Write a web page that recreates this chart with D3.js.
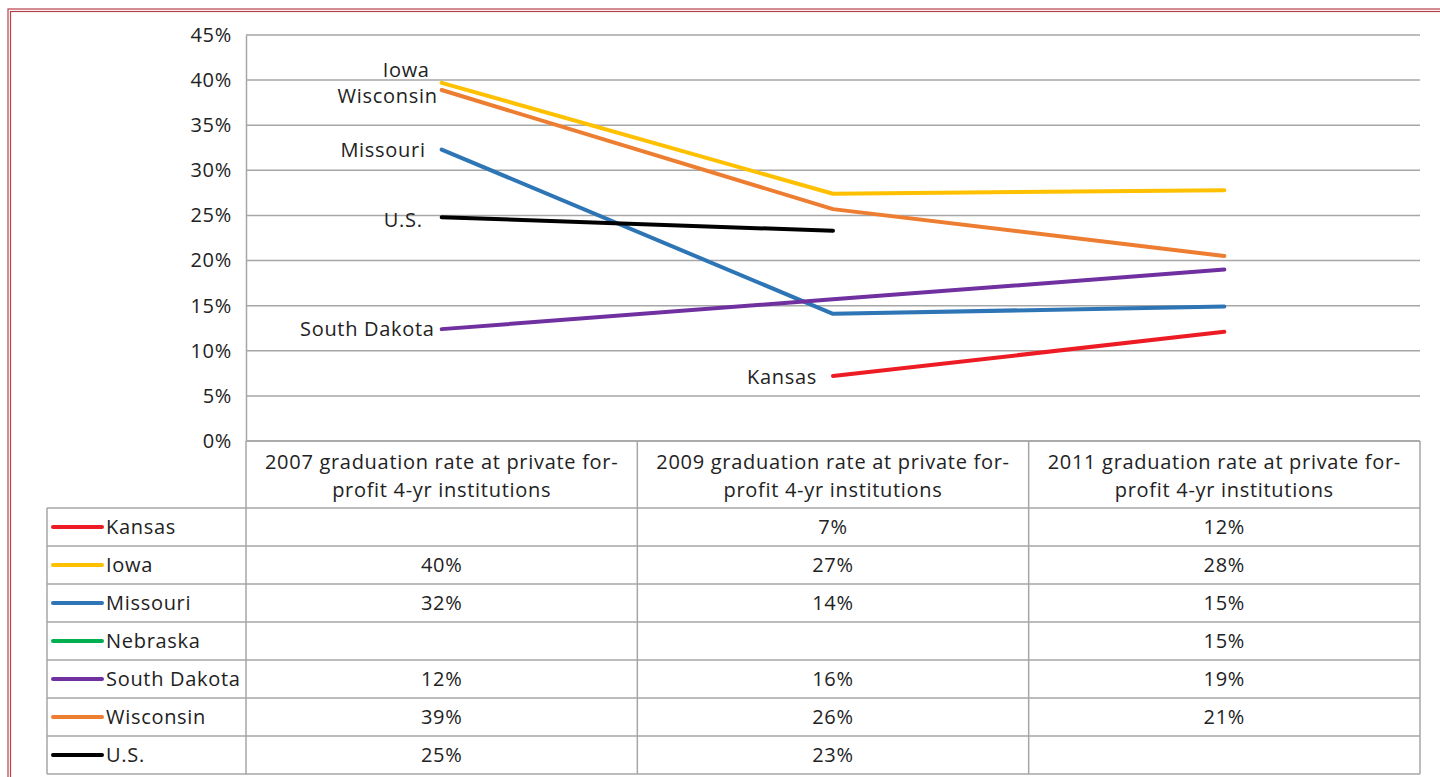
<!DOCTYPE html>
<html>
<head>
<meta charset="utf-8">
<script src="https://cdn.jsdelivr.net/npm/d3@7"></script>
<style>
  body { margin: 0; background: #fff; }
  svg text { font-family: "Open Sans", Lato, sans-serif; fill: #222; letter-spacing: 0.7px; }
</style>
</head>
<body>
<div id="chart"></div>
<script>
// datos
const categories = ["2007", "2009", "2011"];
const headerLines = [
  ["2007 graduation rate at private for-", "profit 4-yr institutions"],
  ["2009 graduation rate at private for-", "profit 4-yr institutions"],
  ["2011 graduation rate at private for-", "profit 4-yr institutions"]
];
const seriesNames = ["Kansas", "Iowa", "Missouri", "Nebraska", "South Dakota", "Wisconsin", "U.S."];
const seriesColors = ["#ed1c24", "#ffc000", "#2e75b6", "#00b050", "#7030a0", "#ed7d31", "#000000"];
const kansas = [null, 0.072, 0.121];
const iowa = [0.397, 0.274, 0.278];
const missouri = [0.323, 0.141, 0.149];
const nebraska = [null, null, 0.15];
const southDakota = [0.124, 0.157, 0.19];
const wisconsin = [0.389, 0.257, 0.205];
const us = [0.248, 0.233, null];
const seriesValues = [kansas, iowa, missouri, nebraska, southDakota, wisconsin, us];
const yTicks = [0, 0.05, 0.1, 0.15, 0.2, 0.25, 0.3, 0.35, 0.4, 0.45];

const width = 1440;
const height = 777;
const plot = { left: 246, right: 1420, top: 35, bottom: 441 };
const table = { left: 47, headerBottom: 508, rowH: 38 };
const gridColor = "#a6a6a6";
const fontSize = "20px";
// desplazamiento de etiquetas (dx hacia la izquierda, dy vertical)
const labelOffset = {
  "Kansas": [16, 8], "Iowa": [12, -6], "Missouri": [16, 7],
  "South Dakota": [7, 7], "Wisconsin": [4, 13], "U.S.": [19, 10]
};

const svg = d3.select("div#chart").append("svg").attr("width", width).attr("height", height)

// marco rojo doble
svg.append("rect").attr("x", 8).attr("y", 9).attr("width", width).attr("height", height)
  .attr("fill", "none").attr("stroke", "#b8404a").attr("stroke-width", 1.2)
svg.append("rect").attr("x", 10.5).attr("y", 11.5).attr("width", width).attr("height", height)
  .attr("fill", "none").attr("stroke", "#b8404a").attr("stroke-width", 1.2)

// escalas
const x = d3.scaleBand().domain(categories).range([plot.left, plot.right])
const y = d3.scaleLinear().domain([0, 0.45]).range([plot.bottom, plot.top])
const cx = c => x(c) + x.bandwidth() / 2

// rejilla
svg.append("g").selectAll("line").data(yTicks).join("line")
  .attr("x1", plot.left).attr("x2", plot.right)
  .attr("y1", d => y(d)).attr("y2", d => y(d))
  .attr("stroke", gridColor).attr("stroke-width", 1.5)

const yAxis = d3.axisLeft(y).tickValues(yTicks).tickFormat(d3.format(".0%")).tickSize(0).tickPadding(14)
const yAxisGroup = svg.append("g").attr("transform", `translate(${plot.left},0)`).call(yAxis)
yAxisGroup.select(".domain").attr("stroke", gridColor).attr("stroke-width", 1.5)
yAxisGroup.selectAll("text").style("font-size", fontSize).style("font-family", "'Open Sans', sans-serif").attr("fill", "#222")

// líneas
const line = d3.line().defined(d => d.v != null).x(d => cx(d.c)).y(d => y(d.v))
seriesNames.forEach((name, i) => {
  const pts = categories.map((c, j) => ({ c: c, v: seriesValues[i][j] }))
  const valid = pts.filter(d => d.v != null)
  if (valid.length < 2) return
  svg.append("path").datum(pts)
    .attr("d", line)
    .attr("fill", "none")
    .attr("stroke", seriesColors[i])
    .attr("stroke-width", 4)
    .attr("stroke-linecap", "round")
    .attr("stroke-linejoin", "round")
  const first = valid[0]
  const off = labelOffset[name] || [10, 7]
  svg.append("text")
    .attr("x", cx(first.c) - off[0]).attr("y", y(first.v) + off[1])
    .attr("text-anchor", "end").style("font-size", fontSize)
    .text(name)
})

// tabla
const tableG = svg.append("g")
const rowTop = i => table.headerBottom + i * table.rowH
const tableBottom = rowTop(seriesNames.length)
const lineAttrs = sel => sel.attr("stroke", gridColor).attr("stroke-width", 1.5)

// separadores verticales
x.domain().forEach(c => {
  lineAttrs(tableG.append("line").attr("x1", x(c)).attr("x2", x(c)).attr("y1", plot.bottom).attr("y2", tableBottom))
})
lineAttrs(tableG.append("line").attr("x1", plot.right).attr("x2", plot.right).attr("y1", plot.bottom).attr("y2", tableBottom))
lineAttrs(tableG.append("line").attr("x1", table.left).attr("x2", table.left).attr("y1", table.headerBottom).attr("y2", tableBottom))
// horizontales
lineAttrs(tableG.append("line").attr("x1", plot.left).attr("x2", plot.right).attr("y1", plot.bottom).attr("y2", plot.bottom))
d3.range(seriesNames.length + 1).forEach(i => {
  lineAttrs(tableG.append("line").attr("x1", table.left).attr("x2", plot.right).attr("y1", rowTop(i)).attr("y2", rowTop(i)))
})

// encabezados
categories.forEach((c, j) => {
  headerLines[j].forEach((t, k) => {
    tableG.append("text").attr("x", cx(c)).attr("y", 469 + k * 28)
      .attr("text-anchor", "middle").style("font-size", fontSize).text(t)
  })
})

// filas
seriesNames.forEach((name, i) => {
  const mid = rowTop(i) + table.rowH / 2
  tableG.append("line").attr("x1", 53).attr("x2", 102).attr("y1", mid).attr("y2", mid)
    .attr("stroke", seriesColors[i]).attr("stroke-width", 4).attr("stroke-linecap", "round")
  tableG.append("text").attr("x", 106).attr("y", mid + 7).style("font-size", fontSize).text(name)
  categories.forEach((c, j) => {
    const v = seriesValues[i][j]
    if (v == null) return
    tableG.append("text").attr("x", cx(c)).attr("y", mid + 7)
      .attr("text-anchor", "middle").style("font-size", fontSize)
      .text(d3.format(".0%")(v))
  })
})
</script>
</body>
</html>
